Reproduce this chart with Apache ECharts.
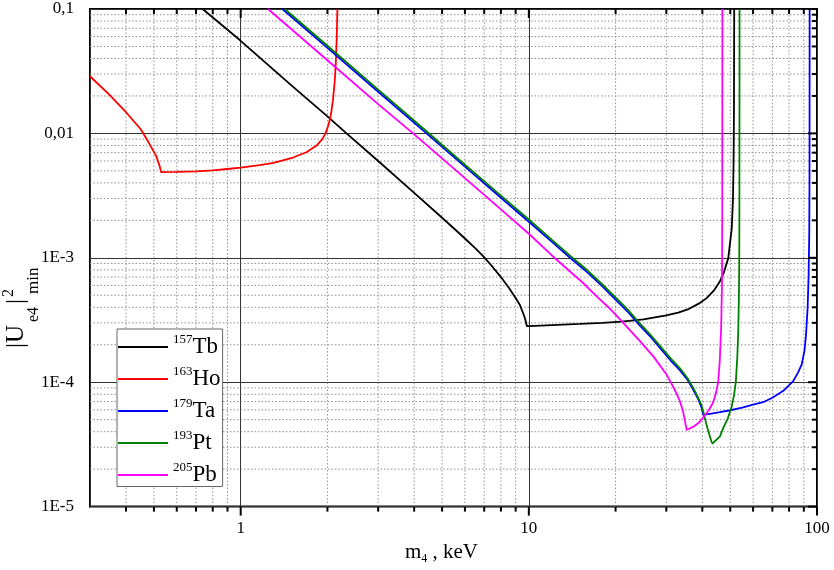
<!DOCTYPE html>
<html><head><meta charset="utf-8">
<script src="https://cdn.jsdelivr.net/npm/echarts@6/dist/echarts.min.js"></script>
<style>html,body{margin:0;padding:0;background:#fff}#c{width:834px;height:570px}</style>
</head><body><div id="c"></div><script>
const FONT = '"Liberation Serif","Times New Roman",serif';

// Legend / series identity
const isotopes = ['157', '163', '179', '193', '205'];
const elements = ['Tb', 'Ho', 'Ta', 'Pt', 'Pb'];
const colors = ['#000000', '#ff0000', '#0000ff', '#008000', '#ff00ff'];

// 157Tb
const tbX = [0.738, 1, 1.5, 2, 2.33, 3, 4, 5, 5.5, 6, 6.5, 6.94, 7.5, 8, 8.5, 9, 9.3, 9.55, 9.7, 9.8, 9.85,
  10.5, 12, 15, 18, 21, 25, 30, 33, 36, 39, 41.4, 44, 46, 47.5, 49.2, 50.6, 51.1, 51.35, 51.5, 51.6];
const tbY = [0.1, 0.0555, 0.0243, 0.0137, 0.0100, 6.0e-3, 3.33e-3, 2.1e-3, 1.72e-3, 1.43e-3, 1.2e-3, 1.03e-3, 8.4e-4, 7.0e-4, 5.8e-4, 4.75e-4, 4.2e-4, 3.6e-4, 3.25e-4, 2.95e-4, 2.82e-4,
  2.84e-4, 2.88e-4, 2.94e-4, 3.0e-4, 3.07e-4, 3.2e-4, 3.45e-4, 3.62e-4, 3.89e-4, 4.3e-4, 4.74e-4, 5.5e-4, 6.44e-4, 7.6e-4, 9.9e-4, 1.72e-3, 3.0e-3, 6.0e-3, 0.015, 0.1];

// 163Ho
const hoX = [0.3, 0.35, 0.4, 0.45, 0.48, 0.509, 0.523, 0.53, 0.6, 0.7, 0.8, 0.916, 1.0, 1.164, 1.3, 1.52, 1.69, 1.83, 1.92, 1.97, 2.02, 2.06, 2.09, 2.12, 2.14, 2.155, 2.166];
const hoY = [0.0288, 0.0205, 0.0148, 0.0108, 8.4e-3, 6.6e-3, 5.5e-3, 4.88e-3, 4.9e-3, 4.96e-3, 5.05e-3, 5.2e-3, 5.3e-3, 5.55e-3, 5.8e-3, 6.4e-3, 7.05e-3, 7.95e-3, 9.0e-3, 0.01, 0.0118, 0.0145, 0.0185, 0.026, 0.038, 0.06, 0.1];

// 179Ta
const taX = [1.395, 2, 3, 4.414, 6, 8, 10, 12, 13.9, 16, 18, 20.2, 22, 24.3, 26.3, 28.5, 31, 33.4, 35.5, 37.2, 38.7, 39.7, 40.3,
  43, 46, 50, 55, 60, 65, 70, 76.4, 82.7, 86, 88.5, 90.5, 91.6, 92.8, 93.5, 94, 94.2, 94.3];
const taY = [0.1, 0.0487, 0.0216, 0.01, 5.4e-3, 3.04e-3, 1.95e-3, 1.35e-3, 1.0e-3, 7.6e-4, 5.9e-4, 4.5e-4, 3.7e-4, 2.85e-4, 2.35e-4, 1.89e-4, 1.5e-4, 1.25e-4, 1.05e-4, 8.7e-5, 7.3e-5, 6.3e-5, 5.46e-5,
  5.6e-5, 5.75e-5, 5.95e-5, 6.25e-5, 6.6e-5, 6.9e-5, 7.5e-5, 8.52e-5, 1.02e-4, 1.2e-4, 1.39e-4, 1.8e-4, 2.4e-4, 4.0e-4, 7.0e-4, 1.6e-3, 5.0e-3, 0.1];

// 193Pt
const ptX = [1.422, 2, 3, 4.414, 6, 8, 10, 12, 13.9, 16, 18, 20.2, 22, 24.3, 26.3, 28.5, 31, 33.4, 35.5, 37.2, 38.7, 39.8, 40.7, 41.4, 42.3, 43.0, 43.4,
  44.5, 46, 47.3, 49, 50.5, 51.5, 52.3, 52.9, 53.3, 53.6, 53.73, 53.8, 53.85];
const ptY = [0.1, 0.0506, 0.0225, 0.0104, 5.6e-3, 3.16e-3, 2.03e-3, 1.4e-3, 1.04e-3, 7.9e-4, 6.1e-4, 4.7e-4, 3.85e-4, 2.96e-4, 2.44e-4, 1.96e-4, 1.56e-4, 1.3e-4, 1.08e-4, 9.0e-5, 7.5e-5, 6.47e-5, 5.3e-5, 4.5e-5, 3.8e-5, 3.35e-5, 3.21e-5,
  3.4e-5, 3.65e-5, 4.3e-5, 5.1e-5, 6.27e-5, 7.8e-5, 1.02e-4, 1.6e-4, 2.57e-4, 5.0e-4, 8.75e-4, 3.0e-3, 0.1];

// 205Pb
const pbX = [1.244, 2, 3, 3.965, 6, 8, 10, 12.1, 15.4, 17.2, 19, 21, 24.3, 27, 30, 32, 33.4, 34.3, 34.8, 35.3,
  37, 39, 40.5, 42, 43.5, 44.5, 45.4, 46.0, 46.5, 46.8, 46.9, 46.95];
const pbY = [0.1, 0.0387, 0.0172, 0.01, 4.37e-3, 2.45e-3, 1.56e-3, 1.03e-3, 6.3e-4, 4.9e-4, 3.95e-4, 3.1e-4, 2.14e-4, 1.62e-4, 1.16e-4, 8.8e-5, 7.1e-5, 5.8e-5, 4.9e-5, 4.13e-5,
  4.35e-5, 4.75e-5, 5.3e-5, 5.9e-5, 6.8e-5, 8.0e-5, 1.0e-4, 1.5e-4, 2.8e-4, 6.0e-4, 2.0e-3, 0.1];

const seriesX = [tbX, hoX, taX, ptX, pbX];
const seriesY = [tbY, hoY, taY, ptY, pbY];

// Axis ranges, ticks and labels
const xRange = [0.3, 100];
const yRange = [1e-5, 0.1];
const xMajorTicks = [1, 10, 100];
const xMinorTicks = [0.4, 0.5, 0.6, 0.7, 0.8, 0.9, 2, 3, 4, 5, 6, 7, 8, 9, 20, 30, 40, 50, 60, 70, 80, 90];
const xTickLabels = ['1', '10', '100'];
const yMajorTicks = [1e-5, 1e-4, 1e-3, 1e-2, 1e-1];
const yMinorTicks = [2e-5, 3e-5, 4e-5, 5e-5, 6e-5, 7e-5, 8e-5, 9e-5,
  2e-4, 3e-4, 4e-4, 5e-4, 6e-4, 7e-4, 8e-4, 9e-4,
  2e-3, 3e-3, 4e-3, 5e-3, 6e-3, 7e-3, 8e-3, 9e-3,
  0.02, 0.03, 0.04, 0.05, 0.06, 0.07, 0.08, 0.09];
const yTickLabels = ['1E-5', '1E-4', '1E-3', '0,01', '0,1'];

const names = isotopes.map((n, i) => n + elements[i]);

function labelFor(v, ticks, labels) {
  for (let i = 0; i < ticks.length; i++) {
    if (Math.abs(Math.log10(v) - Math.log10(ticks[i])) < 1e-6) return labels[i];
  }
  return '';
}

// Data curves
const lineSeries = names.map((nm, i) => ({
  name: nm,
  type: 'line',
  data: seriesX[i].map((x, k) => [x, seriesY[i][k]]),
  showSymbol: false,
  symbol: 'none',
  smooth: false,
  lineStyle: { color: colors[i], width: 1.8 },
  itemStyle: { color: colors[i] },
  z: 3
}));

// Minor dotted grid lines
const gridStyle = { color: '#909090', width: 1, type: [1.5, 2] };
function segment(data, style, z) {
  return { type: 'line', silent: true, z: z, clip: false, symbol: 'none', showSymbol: false, lineStyle: style, data: data };
}
const minorGridSeries = []
  .concat(xMinorTicks.map(v => segment([[v, yRange[0]], [v, yRange[1]]], gridStyle, 1)))
  .concat(yMinorTicks.map(v => segment([[xRange[0], v], [xRange[1], v]], gridStyle, 1)));

const chart = echarts.init(document.getElementById('c'), null, { renderer: 'canvas' });
const baseOption = {
  animation: false,
  backgroundColor: '#ffffff',
  textStyle: { fontFamily: FONT },
  grid: { left: 90, right: 17, top: 9, bottom: 60, show: true, borderColor: '#000', borderWidth: 2, backgroundColor: 'transparent' },
  xAxis: {
    type: 'log', logBase: 10, min: xRange[0], max: xRange[1],
    axisLine: { show: false },
    axisTick: { show: false },
    splitLine: { show: true, lineStyle: { color: '#333', width: 1 } },
    axisLabel: {
      margin: 13, fontSize: 17, color: '#000', fontFamily: FONT,
      formatter: v => labelFor(v, xMajorTicks, xTickLabels)
    },
    name: '{m|m}{s|4}{m| , keV}',
    nameLocation: 'middle',
    nameGap: 24,
    nameTextStyle: {
      padding: [0, 24, 0, 0],
      rich: {
        m: { fontSize: 21, fontFamily: FONT, color: '#000', lineHeight: 26, verticalAlign: 'middle' },
        s: { fontSize: 12, fontFamily: FONT, color: '#000', lineHeight: 12, verticalAlign: 'bottom' }
      }
    }
  },
  yAxis: {
    type: 'log', logBase: 10, min: yRange[0], max: yRange[1],
    axisLine: { show: false },
    axisTick: { show: false },
    splitLine: { show: true, lineStyle: { color: '#333', width: 1 } },
    axisLabel: {
      margin: 16, fontSize: 17, color: '#000', fontFamily: FONT,
      formatter: v => labelFor(v, yMajorTicks, yTickLabels)
    }
  },
  legend: {
    show: true,
    data: names,
    orient: 'vertical',
    left: 117, top: 329,
    padding: [4, 2, 0, 1],
    itemGap: 6.5,
    itemWidth: 50,
    itemHeight: 2,
    icon: 'rect',
    borderColor: '#666',
    borderWidth: 1,
    backgroundColor: '#fff',
    z: 6,
    formatter: function (name) {
      const i = names.indexOf(name);
      return '{sup|' + isotopes[i] + '}{el|' + elements[i] + '}';
    },
    textStyle: {
      rich: {
        sup: { fontSize: 13, fontFamily: FONT, color: '#000', lineHeight: 14, verticalAlign: 'top' },
        el: { fontSize: 23, fontFamily: FONT, color: '#000', lineHeight: 28, verticalAlign: 'middle' }
      }
    }
  },
  graphic: [{
    type: 'group', x: 16, y: 348, rotation: Math.PI / 2, silent: true,
    children: [
      { type: 'text', x: 0, y: 0, style: { text: '|U', fontSize: 25, fontFamily: FONT, fill: '#000', align: 'left', verticalAlign: 'middle' } },
      { type: 'text', x: 26, y: 18, style: { text: 'e4', fontSize: 16, fontFamily: FONT, fill: '#000', align: 'left', verticalAlign: 'middle' } },
      { type: 'text', x: 44, y: 0, style: { text: '|', fontSize: 25, fontFamily: FONT, fill: '#000', align: 'left', verticalAlign: 'middle' } },
      { type: 'text', x: 51, y: -7, style: { text: '2', fontSize: 16, fontFamily: FONT, fill: '#000', align: 'left', verticalAlign: 'middle' } },
      { type: 'text', x: 54, y: 18, style: { text: 'min', fontSize: 17, fontFamily: FONT, fill: '#000', align: 'left', verticalAlign: 'middle' } }
    ]
  }],
  series: minorGridSeries.concat(lineSeries)
};
chart.setOption(baseOption);

// Tick marks: short segments whose far ends are found through the axes' own pixel conversion
const tickStyle = { color: '#000', width: 2 };
const toPx = p => chart.convertToPixel({ gridIndex: 0 }, p);
const toData = p => chart.convertFromPixel({ gridIndex: 0 }, p);
function xTick(v, atY, len) {
  const p = toPx([v, atY]);
  const e = toData([p[0], p[1] + len]);
  return segment([[v, atY], [v, e[1]]], tickStyle, 5);
}
function yTick(v, atX, len) {
  const p = toPx([atX, v]);
  const e = toData([p[0] - len, p[1]]);
  return segment([[atX, v], [e[0], v]], tickStyle, 5);
}
const tickSeriesList = []
  .concat(xMajorTicks.map(v => xTick(v, yRange[0], 9)))
  .concat(xMinorTicks.map(v => xTick(v, yRange[0], 5)))
  .concat(xMajorTicks.map(v => xTick(v, yRange[1], 9)))
  .concat(xMinorTicks.map(v => xTick(v, yRange[1], 5)))
  .concat(yMajorTicks.map(v => yTick(v, xRange[0], 9)))
  .concat(yMinorTicks.map(v => yTick(v, xRange[0], 5)))
  .concat(yMajorTicks.map(v => yTick(v, xRange[1], 9)))
  .concat(yMinorTicks.map(v => yTick(v, xRange[1], 5)));

chart.setOption({ series: minorGridSeries.concat(lineSeries).concat(tickSeriesList) });
</script></body></html>
